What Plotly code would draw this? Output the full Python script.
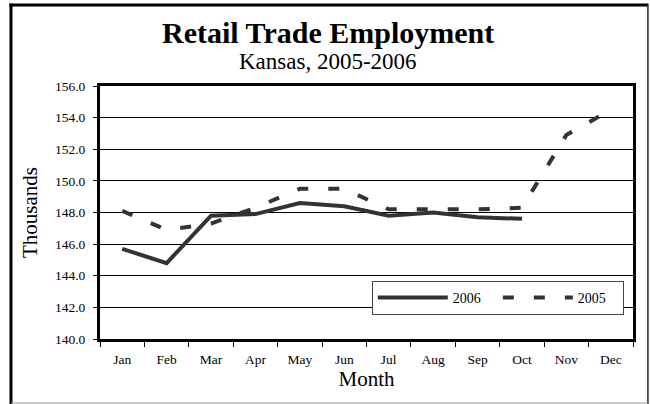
import plotly.graph_objects as go

months = ["Jan", "Feb", "Mar", "Apr", "May", "Jun",
          "Jul", "Aug", "Sep", "Oct", "Nov", "Dec"]
emp_2006 = [145.7, 144.8, 147.8, 147.9, 148.6, 148.4,
            147.8, 148.0, 147.7, 147.6]
emp_2005 = [148.1, 146.9, 147.3, 148.3, 149.5, 149.5,
            148.2, 148.2, 148.2, 148.3, 152.9, 154.5]

FONT = "Liberation Serif"
INK = "#333333"

fig = go.Figure()
fig.add_trace(
    go.Scatter(
        x=months[: len(emp_2006)], y=emp_2006, mode="lines", name="2006",
        line=dict(color=INK, width=4),
    )
)
fig.add_trace(
    go.Scatter(
        x=months, y=emp_2005, mode="lines", name="2005",
        line=dict(color=INK, width=4, dash="11px,20px"),
    )
)

fig.update_layout(
    width=650, height=404,
    margin=dict(l=100, r=17, t=86, b=65),
    paper_bgcolor="white", plot_bgcolor="white",
    font=dict(family=FONT, color="black"),
    legend=dict(
        orientation="h", x=0.51, y=0.162, xanchor="left", yanchor="middle",
        bgcolor="white", bordercolor="#444444", borderwidth=1,
        font=dict(size=14, family=FONT), itemwidth=70,
        entrywidth=40, entrywidthmode="pixels",
    ),
    showlegend=True,
)

# title and subtitle
fig.add_annotation(
    text="<b>Retail Trade Employment</b>", xref="paper", yref="paper",
    x=0.428, y=1.2095, xanchor="center", yanchor="middle", showarrow=False,
    font=dict(size=30, family=FONT, color="black"),
)
fig.add_annotation(
    text="Kansas, 2005-2006", xref="paper", yref="paper",
    x=0.427, y=1.095, xanchor="center", yanchor="middle", showarrow=False,
    font=dict(size=23, family=FONT, color="black"),
)

fig.update_xaxes(
    categoryorder="array", categoryarray=months, range=[-0.5, 11.5],
    showline=True, linecolor="black", linewidth=3, mirror=True,
    ticks="outside", tickson="boundaries", ticklen=5, tickcolor="black",
    tickfont=dict(size=13.5, family=FONT), ticklabelstandoff=6,
    showgrid=False,
    title=dict(text="Month", font=dict(size=21, family=FONT), standoff=6),
)
fig.update_yaxes(
    range=[140, 156], dtick=2, tickformat=".1f",
    showline=True, linecolor="black", linewidth=3, mirror=True,
    ticks="outside", ticklen=4, tickcolor="black",
    tickfont=dict(size=13.5, family=FONT), ticklabelstandoff=5,
    showgrid=True, gridcolor="black", gridwidth=1, zeroline=False,
    title=dict(text="Thousands", font=dict(size=21, family=FONT), standoff=12),
)

# outer frame of the chart
fig.add_shape(type="line", xref="paper", yref="paper",
              x0=-0.167, x1=-0.167, y0=-0.26, y1=1.326,
              line=dict(color="black", width=3))
fig.add_shape(type="line", xref="paper", yref="paper",
              x0=-0.17, x1=1.028, y0=1.32, y1=1.32,
              line=dict(color="black", width=3))
fig.add_shape(type="line", xref="paper", yref="paper",
              x0=1.028, x1=1.028, y0=-0.26, y1=1.326,
              line=dict(color="#222222", width=1.5))
fig.add_shape(type="line", xref="paper", yref="paper",
              x0=-0.167, x1=1.028, y0=-0.253, y1=-0.253,
              line=dict(color="#999999", width=1))

fig.write_html(
    "out.html",
    config={"displayModeBar": False},
    post_script="document.body.style.margin='0';",
)
